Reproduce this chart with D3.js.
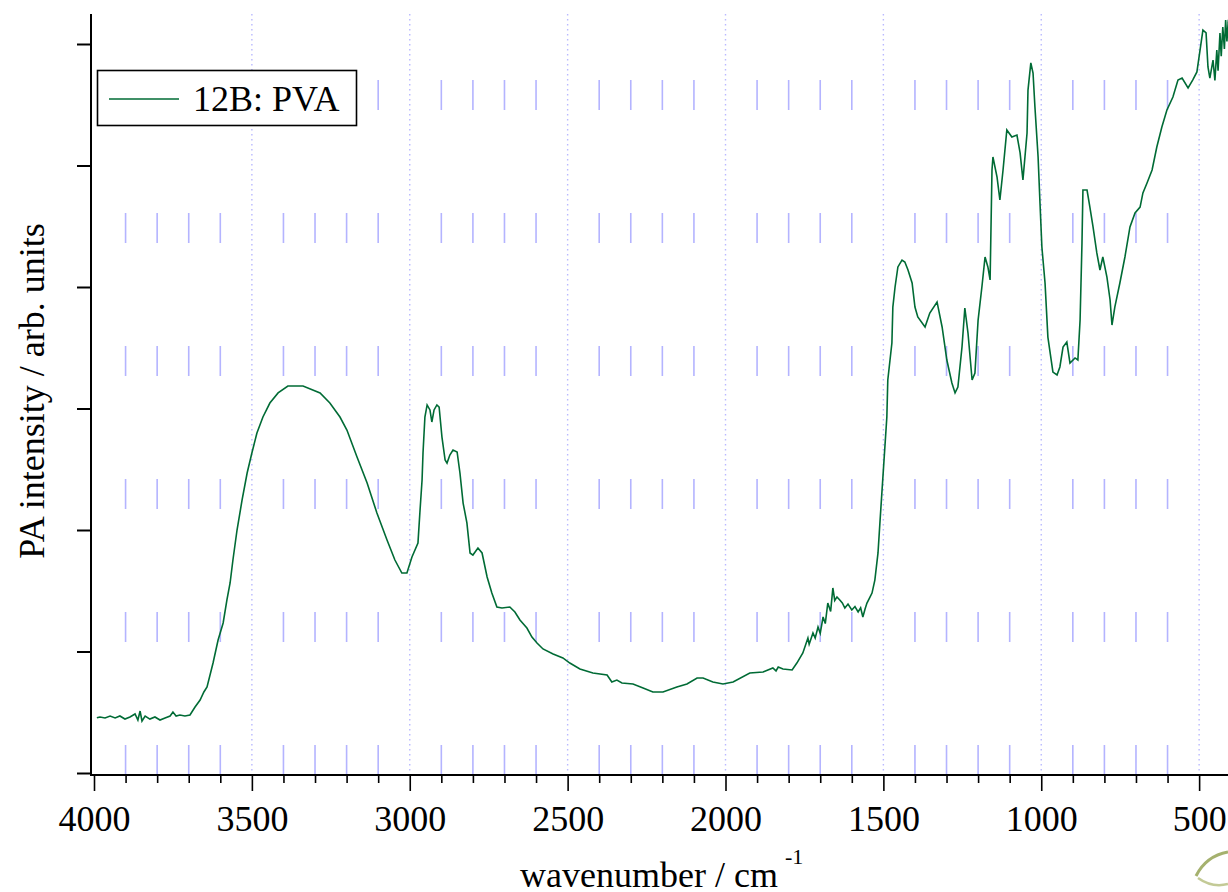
<!DOCTYPE html>
<html>
<head>
<meta charset="utf-8">
<script src="https://cdn.jsdelivr.net/npm/d3@7"></script>
<style>
  html, body { margin: 0; padding: 0; background: #ffffff; overflow: hidden; }
  svg { display: block; }
</style>
</head>
<body>
<svg id="chart" width="1228" height="892"></svg>
<script>
// ---------------- data ----------------
const seriesName = "12B: PVA";
const xLabel = "wavenumber / cm";
const xLabelSup = "-1";
const yLabel = "PA intensity / arb. units";
const xMajorTicks = [4000, 3500, 3000, 2500, 2000, 1500, 1000, 500];
const xMinorTicks = [3900,3800,3700,3600,3400,3300,3200,3100,2900,2800,2700,2600,2400,2300,2200,2100,
                     1900,1800,1700,1600,1400,1300,1200,1100,900,800,700,600,400];
const yTicks = [0, 1, 2, 3, 4, 5, 6];

const wavenumber = [
 3991,3981,3965,3949,3933,3918,3902,3886,3870,3861,3854,3848,3838,3823,3807,3791,3775,3759,3750,3740,
 3728,3712,3696,3680,3664,3652,3642,3623,3607,3591,3579,3569,3560,3547,3531,3515,3500,3484,3465,3443,
 3417,3386,3338,3284,3253,3221,3199,3167,3135,3104,3072,3047,3025,3009,2993,2974,2968,2961,2958,2952,
 2945,2936,2930,2923,2914,2907,2898,2888,2882,2873,2863,2850,2841,2831,2819,2809,2800,2784,2771,2755,
 2740,2724,2708,2683,2667,2651,2629,2613,2597,2578,2546,2515,2493,2461,2420,2375,2360,2344,2328,2293,
 2261,2230,2198,2154,2122,2090,2071,2040,2008,1976,1923,1881,1850,1840,1833,1818,1789,1774,1755,1739,
 1735,1723,1716,1707,1700,1691,1684,1676,1667,1660,1654,1647,1638,1630,1622,1612,1600,1590,1580,1572,
 1565,1558,1552,1544,1536,1527,1517,1511,1489,1486,1473,1470,1463,1454,1441,1432,1422,1409,1400,1391,
 1368,1353,1330,1314,1299,1283,1273,1264,1251,1242,1232,1219,1210,1200,1188,1178,1169,1162,1156,1153,
 1140,1131,1121,1109,1093,1077,1067,1058,1045,1042,1033,1026,1020,1010,1004,998,988,979,963,950,
 941,931,919,909,893,884,877,871,868,855,846,836,824,814,805,792,782,776,767,751,
 735,719,703,687,678,665,649,634,618,602,583,567,554,535,520,507,497,488,478,472,
 466,456,450,444,440,434,430,425,420,416,412,408,403
];
const intensity = [
 0.455,0.461,0.453,0.469,0.453,0.469,0.444,0.461,0.486,0.436,0.510,0.428,0.469,0.444,0.461,0.436,0.453,0.469,0.502,0.469,
 0.477,0.469,0.477,0.543,0.601,0.667,0.708,0.905,1.095,1.235,1.424,1.564,1.753,2.000,2.247,2.469,2.634,2.798,2.930,3.045,
 3.128,3.185,3.185,3.128,3.045,2.930,2.823,2.601,2.387,2.140,1.918,1.753,1.646,1.646,1.778,1.893,2.140,2.412,2.634,2.930,
 3.029,2.988,2.889,2.988,3.029,3.012,2.765,2.576,2.551,2.617,2.658,2.642,2.469,2.222,2.058,1.811,1.794,1.852,1.811,1.613,
 1.481,1.366,1.358,1.366,1.325,1.259,1.193,1.119,1.070,1.021,0.979,0.947,0.905,0.856,0.823,0.807,0.749,0.765,0.741,0.733,
 0.700,0.667,0.667,0.708,0.733,0.782,0.782,0.749,0.733,0.749,0.823,0.831,0.864,0.840,0.872,0.856,0.848,0.905,0.988,1.111,
 1.060,1.152,1.110,1.202,1.150,1.284,1.230,1.399,1.330,1.523,1.420,1.449,1.424,1.400,1.358,1.390,1.342,1.370,1.325,1.360,
 1.284,1.350,1.399,1.440,1.481,1.588,1.811,2.058,2.930,3.235,3.539,3.835,4.000,4.165,4.222,4.206,4.140,4.033,3.835,3.753,
 3.671,3.786,3.877,3.671,3.399,3.210,3.128,3.177,3.506,3.827,3.621,3.235,3.292,3.728,4.000,4.247,4.165,4.058,4.963,5.070,
 4.905,4.716,4.963,5.292,5.235,5.251,5.103,4.881,5.267,5.621,5.844,5.761,5.481,5.070,4.691,4.329,4.033,3.588,3.300,3.276,
 3.342,3.506,3.547,3.374,3.416,3.399,3.728,4.362,4.798,4.798,4.658,4.494,4.280,4.140,4.247,4.082,3.893,3.687,3.835,4.033,
 4.247,4.494,4.609,4.658,4.774,4.856,4.963,5.152,5.317,5.457,5.564,5.704,5.720,5.638,5.704,5.770,5.951,6.115,6.091,5.811,
 5.720,5.868,5.700,5.951,5.780,6.091,5.900,6.140,5.960,6.198,6.020,6.180,6.156
];

// ---------------- layout ----------------
const svg = d3.select("#chart");
const W = 1228, H = 892;
const plotTop = 14, axisY = 775, axisX = 91;

const x = d3.scaleLinear().domain([4000, 400]).range([94, 94 + 3600 * 0.31575]);
const y = d3.scaleLinear().domain([0, 6]).range([773, 44]);

const font = "'Liberation Serif', 'Times New Roman', serif";

// clip for plot area
svg.append("defs").append("clipPath").attr("id", "plotclip")
  .append("rect").attr("x", axisX + 1).attr("y", plotTop).attr("width", W - axisX).attr("height", axisY - plotTop);

// minor grid (long-dash short segments)
svg.append("g").selectAll("line").data(xMinorTicks).join("line")
  .attr("x1", d => x(d)).attr("x2", d => x(d))
  .attr("y1", axisY).attr("y2", plotTop)
  .attr("stroke", "#b4b4ff").attr("stroke-width", 1.6)
  .attr("stroke-dasharray", "30,103");

// major grid (dotted)
svg.append("g").selectAll("line").data(xMajorTicks.filter(d => d !== 4000)).join("line")
  .attr("x1", d => x(d)).attr("x2", d => x(d))
  .attr("y1", plotTop).attr("y2", axisY)
  .attr("stroke", "#b9b9ff").attr("stroke-width", 1.4)
  .attr("stroke-dasharray", "1.5,3.5");

// the spectrum
const line = d3.line().x((d, i) => x(wavenumber[i])).y((d, i) => y(intensity[i]));
svg.append("path")
  .attr("clip-path", "url(#plotclip)")
  .attr("d", line(intensity))
  .attr("fill", "none")
  .attr("stroke", "#006b35")
  .attr("stroke-width", 1.6)
  .attr("stroke-linejoin", "miter");

// x axis: major
const xAxisMajor = d3.axisBottom(x).tickValues(xMajorTicks).tickSize(16).tickPadding(14)
  .tickFormat(d3.format("d"));
const gx = svg.append("g").attr("transform", `translate(0,${axisY})`).call(xAxisMajor);
gx.select(".domain").remove();
gx.selectAll(".tick line").attr("stroke", "#000").attr("stroke-width", 1.6);
gx.selectAll(".tick text").attr("font-family", font).attr("font-size", 36).attr("fill", "#000");

// x axis: minor
const gxm = svg.append("g").attr("transform", `translate(0,${axisY})`)
  .call(d3.axisBottom(x).tickValues(xMinorTicks).tickSize(8).tickFormat(""));
gxm.select(".domain").remove();
gxm.selectAll(".tick line").attr("stroke", "#000").attr("stroke-width", 1.6);

// x axis line
svg.append("line").attr("x1", axisX).attr("x2", W).attr("y1", axisY).attr("y2", axisY)
  .attr("stroke", "#000").attr("stroke-width", 2);

// y axis
const gy = svg.append("g").attr("transform", `translate(${axisX},0)`)
  .call(d3.axisLeft(y).tickValues(yTicks).tickSize(14).tickFormat(""));
gy.select(".domain").remove();
gy.selectAll(".tick line").attr("stroke", "#000").attr("stroke-width", 2);
svg.append("line").attr("x1", axisX).attr("x2", axisX).attr("y1", plotTop).attr("y2", axisY + 1)
  .attr("stroke", "#000").attr("stroke-width", 2);

// axis titles
const xt = svg.append("text").attr("x", 520).attr("y", 887)
  .attr("font-family", font).attr("font-size", 36).attr("fill", "#000");
xt.append("tspan").text(xLabel);
svg.append("text").attr("x", 785).attr("y", 864)
  .attr("font-family", font).attr("font-size", 22).attr("fill", "#000").text(xLabelSup);

svg.append("text")
  .attr("transform", "translate(44,391) rotate(-90)")
  .attr("text-anchor", "middle")
  .attr("font-family", font).attr("font-size", 36).attr("fill", "#000")
  .text(yLabel);

// legend
const lg = svg.append("g");
lg.append("rect").attr("x", 97.5).attr("y", 70.5).attr("width", 259).attr("height", 55)
  .attr("fill", "#fff").attr("stroke", "#000").attr("stroke-width", 1.6);
lg.append("line").attr("x1", 109).attr("x2", 179).attr("y1", 99).attr("y2", 99)
  .attr("stroke", "#006b35").attr("stroke-width", 1.6);
lg.append("text").attr("x", 193).attr("y", 111)
  .attr("font-family", font).attr("font-size", 36).attr("fill", "#000").text(seriesName);

// small decorative logo fragment (bottom-right corner)
const logo = svg.append("g");
logo.append("path").attr("d", "M1196,876 Q1206,856 1228,852")
  .attr("fill", "none").attr("stroke", "#8f9d4a").attr("stroke-width", 3).attr("opacity", 0.8);
logo.append("path").attr("d", "M1198,878 Q1212,888 1228,884")
  .attr("fill", "none").attr("stroke", "#a9b46a").attr("stroke-width", 2.5).attr("opacity", 0.7);
</script>
</body>
</html>
